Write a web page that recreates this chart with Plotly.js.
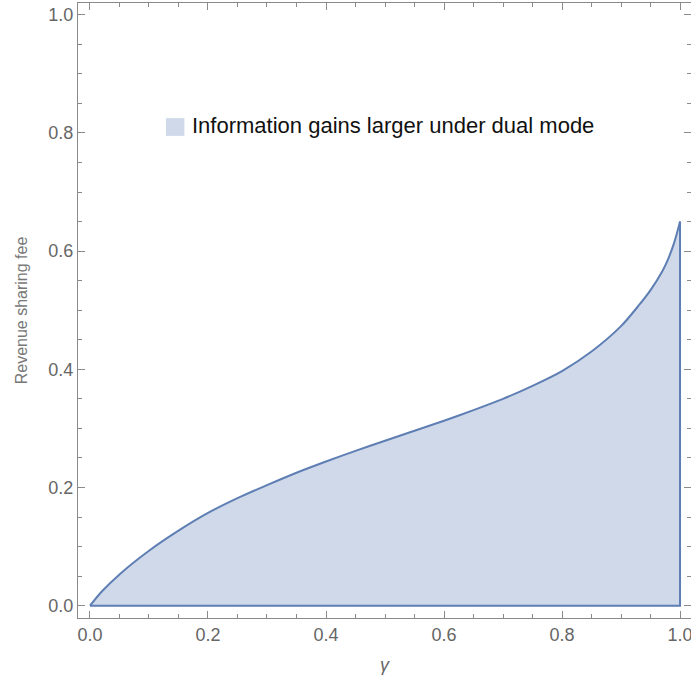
<!DOCTYPE html>
<html>
<head>
<meta charset="utf-8">
<script src="https://cdn.plot.ly/plotly-3.0.1.min.js"></script>
<style>html,body{margin:0;padding:0;background:#fff;}#chart{width:691px;height:684px;}</style>
</head>
<body>
<div id="chart"></div>
<script>
// Boundary of the region (gamma vs revenue sharing fee)
var gamma = [0, 0.02, 0.05, 0.1, 0.15, 0.2, 0.25, 0.3, 0.35, 0.4, 0.45, 0.5, 0.55, 0.6, 0.65, 0.7, 0.75, 0.8, 0.85, 0.9, 0.93, 0.95, 0.97, 0.98, 0.99, 0.995, 1.0];
var fee   = [0, 0.024, 0.053, 0.093, 0.127, 0.157, 0.182, 0.204, 0.225, 0.244, 0.262, 0.279, 0.296, 0.313, 0.331, 0.350, 0.372, 0.397, 0.430, 0.473, 0.508, 0.534, 0.566, 0.587, 0.614, 0.631, 0.65];
// closing edges of the region: right side down to 0, then back along the bottom
var edgeX = [1, 1, 0];
var edgeY = [0.65, 0, 0];
var legendLabel = "Information gains larger under dual mode";
var xTitle = "<i>γ</i>";
var yTitle = "Revenue sharing fee";

var fillColor = "rgb(207,217,233)";
var lineColor = "rgb(94,126,180)";

var fillTrace = {
  x: gamma.concat(edgeX.slice(1)),
  y: fee.concat(edgeY.slice(1)),
  type: "scatter", mode: "lines", fill: "toself",
  fillcolor: fillColor, line: {width: 0, color: fillColor},
  showlegend: false, hoverinfo: "skip"
};
var curveTrace = {
  x: gamma, y: fee, type: "scatter", mode: "lines",
  line: {color: lineColor, width: 2, shape: "spline", smoothing: 0.8},
  showlegend: false, hoverinfo: "skip"
};
var edgeTrace = {
  x: edgeX, y: edgeY, type: "scatter", mode: "lines",
  line: {color: lineColor, width: 2},
  showlegend: false, hoverinfo: "skip"
};

var axisCommon = {
  showline: true,
  linecolor: "#8a8a8a",
  linewidth: 1,
  mirror: "ticks",
  ticks: "inside",
  ticklen: 7,
  tickwidth: 1,
  tickcolor: "#8a8a8a",
  showgrid: false,
  zeroline: false,
  dtick: 0.2,
  tick0: 0,
  tickformat: ".1f",
  ticklabeloverflow: "allow",
  tickfont: {family: "Liberation Sans, Arial, sans-serif", size: 18, color: "#666"},
  minor: {dtick: 0.05, tick0: 0, ticks: "inside", ticklen: 4, tickcolor: "#8a8a8a", tickwidth: 1, showgrid: false}
};

var layout = {
  width: 691,
  height: 684,
  margin: {l: 78, r: 0, t: 3, b: 66},
  paper_bgcolor: "#fff",
  plot_bgcolor: "#fff",
  showlegend: false,
  xaxis: Object.assign({}, axisCommon, {
    range: [-0.0203, 1.0186],
    title: {text: xTitle, font: {family: "Liberation Sans, Arial, sans-serif", size: 18, color: "#666"}, standoff: 14}
  }),
  yaxis: Object.assign({}, axisCommon, {
    range: [-0.0208, 1.0198],
    title: {text: yTitle, font: {family: "Liberation Sans, Arial, sans-serif", size: 16, color: "#777"}, standoff: 16}
  }),
  shapes: [{
    type: "rect", xref: "x", yref: "y",
    x0: 0.1288, x1: 0.160, y0: 0.795, y1: 0.825,
    fillcolor: fillColor, line: {width: 0}
  }],
  annotations: [{
    xref: "x", yref: "y", x: 0.170, y: 0.812,
    xanchor: "left", yanchor: "middle",
    text: legendLabel, showarrow: false,
    font: {family: "Liberation Sans, Arial, sans-serif", size: 22, color: "#111"}
  }]
};

Plotly.newPlot("chart", [fillTrace, curveTrace, edgeTrace], layout, {displayModeBar: false, staticPlot: true});
</script>
</body>
</html>
